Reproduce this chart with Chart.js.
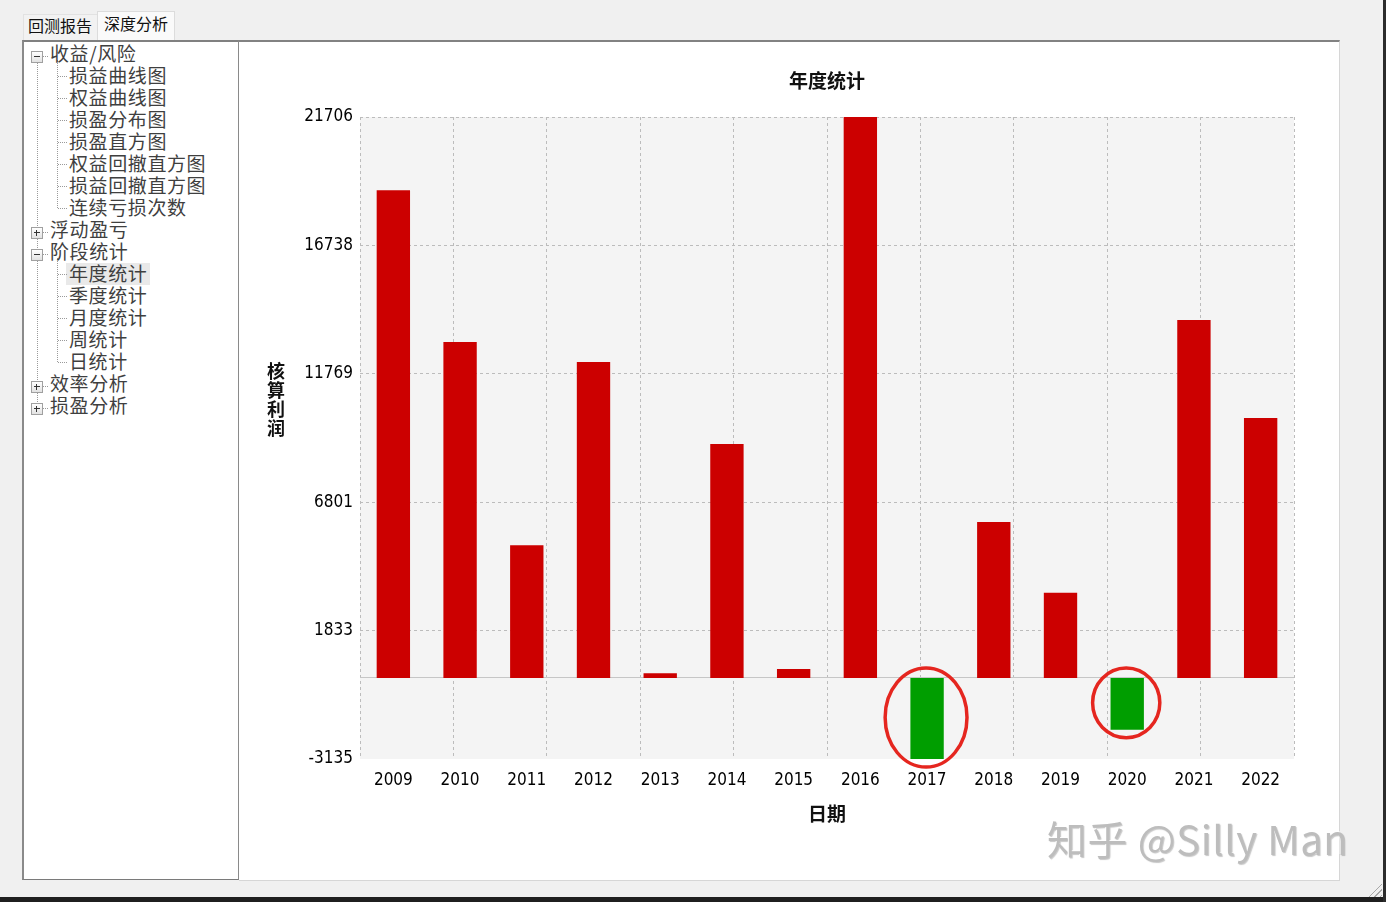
<!DOCTYPE html>
<html>
<head>
<meta charset="utf-8">
<title>年度统计</title>
<script src="https://cdn.jsdelivr.net/npm/chart.js@4.4.1/dist/chart.umd.min.js"></script>
<style>
  html, body { margin: 0; padding: 0; }
  body {
    width: 1386px; height: 902px; position: relative; overflow: hidden;
    background: #f0f0f0;
    font-family: "Noto Sans CJK SC", sans-serif;
  }
  .abs { position: absolute; }
  .tab { position: absolute; font-size: 16px; line-height: 16px; color: #111; white-space: nowrap; }
  #tabOn { left: 97px; top: 11px; width: 78px; height: 29px; background: #fafafa;
           border: 1px solid #dcdcdc; border-bottom: none; box-sizing: border-box; }
  #tabOff { left: 23px; top: 14px; width: 74px; height: 26px; background: #f2f2f2;
            border: 1px solid #e2e2e2; border-bottom: none; border-right: none; box-sizing: border-box; }
  #tree {
    left: 22px; top: 40px; width: 217px; height: 840px; box-sizing: border-box;
    background: #fff; border-left: 2px solid #8a8a8a; border-top: 2px solid #808080;
    border-right: 1px solid #8a8a8a; border-bottom: 1px solid #7a7a7a;
  }
  #panel {
    left: 239px; top: 40px; width: 1101px; height: 841px; box-sizing: border-box;
    background: #fff; border-top: 2px solid #828282; border-right: 1px solid #d6d6d6;
    border-bottom: 1px solid #d6d6d6;
  }
  #chartBox { left: 240px; top: 41px; width: 1099px; height: 838px; }
  .row { position: absolute; height: 22px; line-height: 22px; font-size: 19px;
         letter-spacing: 0.6px; color: #3f3f3f; white-space: nowrap; }
  .sel { position: absolute; left: 66px; width: 84px; height: 22px; background: #e9e9e9; }
  .vdot { position: absolute; width: 0; border-left: 1px dotted #9a9a9a; }
  .hdot { position: absolute; height: 0; border-top: 1px dotted #9a9a9a; }
  .box { position: absolute; left: 31px; width: 12px; height: 12px; box-sizing: border-box;
         border: 1px solid #a0a0a0; background: linear-gradient(#ffffff, #e2e2e2); }
  .box::before { content: ""; position: absolute; left: 2px; top: 4px; width: 6px; height: 1px; background: #333; }
  .box.plus::after { content: ""; position: absolute; left: 4px; top: 2px; width: 1px; height: 6px; background: #333; }
  #yTitle { left: 266px; top: 361px; width: 20px; text-align: center; font-size: 18px;
            line-height: 19px; font-weight: bold; color: #111; }
  #mark { left: 1047px; top: 812px; font-size: 40px; line-height: 52px; color: #bdbdbd;
          white-space: nowrap; letter-spacing: 0.6px;
          text-shadow: -1px -1px 0 rgba(255,255,255,0.9), 1px 1px 1px rgba(0,0,0,0.22); }
  #edgeBottom { left: 0; top: 897px; width: 1386px; height: 5px; background: #1f1f1f; }
  #edgeRight { left: 1383px; top: 0; width: 3px; height: 902px; background: #2c2c2c; }
  #grip { left: 1364px; top: 880px; width: 18px; height: 17px;
          background: repeating-linear-gradient(135deg, transparent 0 3px, #a8a8a8 3px 4px);
          clip-path: polygon(100% 0, 100% 100%, 0 100%); }
</style>
</head>
<body>
<!-- window frame -->
<div id="tabOff" class="abs"></div>
<div id="tabOn" class="abs"></div>
<div class="tab" style="left:28px; top:17px;">回测报告</div>
<div class="tab" style="left:104px; top:15px;">深度分析</div>

<div id="tree" class="abs"></div>
<div id="panel" class="abs"></div>
<div id="treeRows"></div>

<div id="chartBox" class="abs"><canvas id="yearChart" width="1099" height="838"></canvas></div>
<div id="yTitle" class="abs">核<br>算<br>利<br>润</div>
<div id="mark" class="abs">知乎 @Silly Man</div>

<div id="grip" class="abs"></div>
<div id="edgeBottom" class="abs"></div>
<div id="edgeRight" class="abs"></div>

<script>
// ---- navigation tree ----
const treeItems = [
  { text: '收益/风险', level: 0, state: 'open' },
  { text: '损益曲线图', level: 1 },
  { text: '权益曲线图', level: 1 },
  { text: '损盈分布图', level: 1 },
  { text: '损盈直方图', level: 1 },
  { text: '权益回撤直方图', level: 1 },
  { text: '损益回撤直方图', level: 1 },
  { text: '连续亏损次数', level: 1 },
  { text: '浮动盈亏', level: 0, state: 'closed' },
  { text: '阶段统计', level: 0, state: 'open' },
  { text: '年度统计', level: 1, selected: true },
  { text: '季度统计', level: 1 },
  { text: '月度统计', level: 1 },
  { text: '周统计', level: 1 },
  { text: '日统计', level: 1 },
  { text: '效率分析', level: 0, state: 'closed' },
  { text: '损盈分析', level: 0, state: 'closed' }
];

(function buildTree() {
  const host = document.getElementById('treeRows');
  const rowCenter = i => 54 + 22 * i;
  const add = (cls, style, text) => {
    const el = document.createElement('div');
    el.className = cls;
    Object.assign(el.style, style);
    if (text) el.textContent = text;
    host.appendChild(el);
    return el;
  };
  // root connector
  const roots = treeItems.map((t, i) => t.level === 0 ? i : -1).filter(i => i >= 0);
  const firstRoot = roots[0], lastRoot = roots[roots.length - 1];
  add('vdot', { left: '37px', top: rowCenter(firstRoot) + 'px', height: (rowCenter(lastRoot) - rowCenter(firstRoot)) + 'px' });
  // child connectors
  treeItems.forEach((t, i) => {
    if (t.level === 0 && t.state === 'open') {
      let last = i;
      while (last + 1 < treeItems.length && treeItems[last + 1].level === 1) last++;
      add('vdot', { left: '57px', top: (rowCenter(i) + 6) + 'px', height: (rowCenter(last) - rowCenter(i) - 6) + 'px' });
    }
  });
  treeItems.forEach((t, i) => {
    const c = rowCenter(i);
    if (t.selected) add('sel', { top: (c - 11) + 'px' });
    if (t.level === 0) {
      add('hdot', { left: '43px', top: (c + 2) + 'px', width: '5px' });
      add('box' + (t.state === 'closed' ? ' plus' : ''), { top: (c - 3) + 'px' });
      add('row', { left: '50px', top: (c - 12) + 'px' }, t.text);
    } else {
      add('hdot', { left: '58px', top: c + 'px', width: '9px' });
      add('row', { left: '69px', top: (c - 12) + 'px' }, t.text);
    }
  });
})();

// ---- yearly net profit ----
const years = ['2009', '2010', '2011', '2012', '2013', '2014', '2015',
               '2016', '2017', '2018', '2019', '2020', '2021', '2022'];
const netProfit = [18872, 12996, 5137, 12223, 181, 9053, 345,
                   21706, -3135, 6038, 3293, -2002, 13847, 10058];
const yTickValues = [-3135, 1833, 6801, 11769, 16738, 21706];

const gainColor = '#cc0000';
const lossColor = '#009e00';
const gridColor = '#bcbcbc';
const tickFont = { family: '"DejaVu Sans Condensed", "Liberation Sans", sans-serif', size: 17 };
const cjkBold = { family: '"Noto Sans CJK SC", sans-serif', size: 19, weight: 'bold' };

// light grey plotting area
const plotBackground = {
  id: 'plotBackground',
  beforeDraw(chart) {
    const { ctx, chartArea: { left, top, width, height } } = chart;
    ctx.save();
    ctx.fillStyle = '#f4f4f4';
    ctx.fillRect(left, top, width, height);
    ctx.restore();
  }
};

// red rings around the losing years
const lossRings = {
  id: 'lossRings',
  afterDatasetsDraw(chart) {
    const { ctx } = chart;
    const values = chart.data.datasets[0].data;
    const meta = chart.getDatasetMeta(0);
    ctx.save();
    ctx.strokeStyle = '#e5261f';
    ctx.lineWidth = 3.5;
    meta.data.forEach((bar, i) => {
      if (values[i] >= 0) return;
      const { x, y, base, width } = bar.getProps(['x', 'y', 'base', 'width'], true);
      const halfH = Math.abs(base - y) / 2;
      const cy = (y + base) / 2 - 1;
      ctx.beginPath();
      ctx.ellipse(x - 1, cy, width / 2 + 0.5 * halfH + 4, halfH + 9, 0, 0, Math.PI * 2);
      ctx.stroke();
    });
    ctx.restore();
  }
};

new Chart(document.getElementById('yearChart'), {
  type: 'bar',
  data: {
    labels: years,
    datasets: [{
      label: '核算利润',
      data: netProfit,
      xAxisID: 'x',
      yAxisID: 'y',
      backgroundColor: netProfit.map(v => v >= 0 ? gainColor : lossColor),
      borderWidth: 0,
      barPercentage: 0.5,
      categoryPercentage: 1.0
    }]
  },
  options: {
    responsive: false,
    animation: false,
    devicePixelRatio: 1,
    layout: { padding: { left: 0, right: 45, top: 0, bottom: 0 } },
    plugins: {
      legend: { display: false },
      tooltip: { enabled: false },
      title: {
        display: true,
        text: '年度统计',
        fullSize: false,
        color: '#111',
        font: cjkBold,
        padding: { top: 28.6, bottom: 24.6 }
      }
    },
    scales: {
      x: {
        type: 'category',
        axis: 'x',
        position: 'bottom',
        offset: true,
        grid: { display: false, drawTicks: false },
        border: { display: false },
        ticks: { color: '#000', font: tickFont, padding: 11, maxRotation: 0, autoSkip: false },
        title: { display: true, text: '日期', color: '#111', font: cjkBold, padding: { top: 0, bottom: 53.6 } },
        afterFit(scale) { scale.height = 120; }
      },
      // ten equal column divisions behind the bars
      xGrid: {
        type: 'linear',
        axis: 'x',
        position: 'top',
        min: 0,
        max: 10,
        offset: false,
        ticks: { display: false, stepSize: 1 },
        grid: { color: gridColor, lineWidth: 1, drawTicks: false, offset: false },
        border: { display: false, dash: [3, 3] },
        afterFit(scale) { scale.height = 0; }
      },
      y: {
        type: 'linear',
        axis: 'y',
        position: 'left',
        min: yTickValues[0],
        max: yTickValues[yTickValues.length - 1],
        afterBuildTicks(scale) { scale.ticks = yTickValues.map(v => ({ value: v })); },
        grid: {
          color: c => (c.tick && c.tick.value === yTickValues[0]) ? 'rgba(0,0,0,0)' : gridColor,
          lineWidth: 1,
          drawTicks: false
        },
        border: { display: false, dash: [3, 3] },
        ticks: { color: '#000', font: tickFont, padding: 7, callback: v => String(v) },
        afterFit(scale) { scale.width = 120; }
      },
      // solid baseline at zero
      yZero: {
        type: 'linear',
        axis: 'y',
        position: 'left',
        min: yTickValues[0],
        max: yTickValues[yTickValues.length - 1],
        afterBuildTicks(scale) { scale.ticks = [{ value: 0 }]; },
        ticks: { display: false },
        grid: { color: '#c6c6c6', lineWidth: 1, drawTicks: false },
        border: { display: false },
        afterFit(scale) { scale.width = 0; }
      }
    }
  },
  plugins: [plotBackground, lossRings]
});
</script>
</body>
</html>
